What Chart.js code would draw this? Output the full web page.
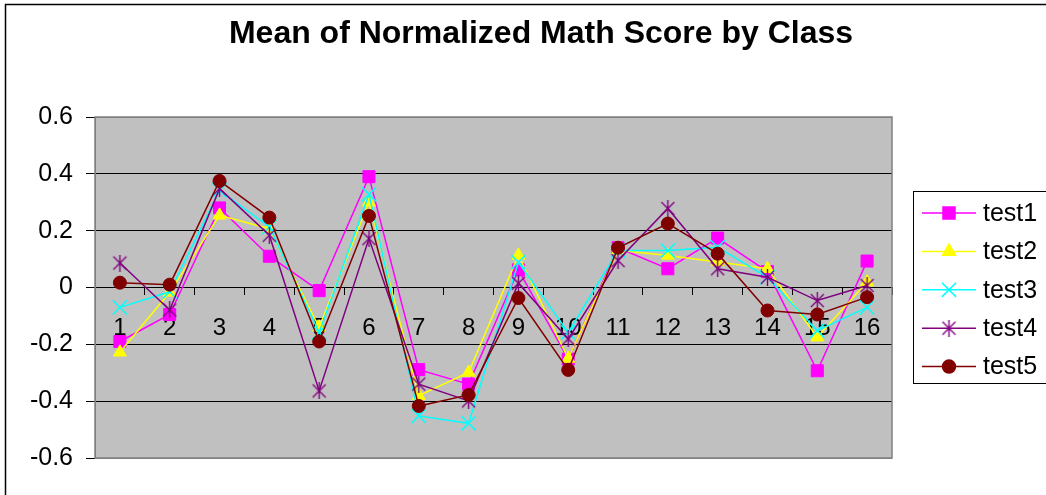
<!DOCTYPE html>
<html>
<head>
<meta charset="utf-8">
<title>Mean of Normalized Math Score by Class</title>
<script src="https://cdn.jsdelivr.net/npm/chart.js@4.4.1/dist/chart.umd.min.js"></script>
<style>
    body { margin: 0; background: #fff; }
    #wrap { width: 1046px; height: 495px; }
</style>
</head>
<body>
<div id="wrap"><canvas id="scoreChart" width="1046" height="495"></canvas></div>
<script>
// Chart data
const classes = ['1', '2', '3', '4', '5', '6', '7', '8', '9', '10', '11', '12', '13', '14', '15', '16'];
const seriesNames = ['test1', 'test2', 'test3', 'test4', 'test5'];
const test1 = [-0.19, -0.095, 0.28, 0.11, -0.011, 0.39, -0.289, -0.34, 0.062, -0.252, 0.14, 0.066, 0.174, 0.056, -0.293, 0.093];
const test2 = [-0.228, -0.017, 0.254, 0.207, -0.14, 0.30, -0.381, -0.299, 0.113, -0.25, 0.131, 0.113, 0.09, 0.066, -0.175, 0.019];
const test3 = [-0.07, -0.015, 0.342, 0.213, -0.158, 0.328, -0.452, -0.478, 0.089, -0.158, 0.13, 0.13, 0.142, 0.036, -0.152, -0.07];
const test4 = [0.086, -0.079, 0.348, 0.184, -0.364, 0.172, -0.34, -0.399, 0.015, -0.181, 0.095, 0.278, 0.066, 0.036, -0.046, 0.007];
const test5 = [0.017, 0.01, 0.375, 0.246, -0.19, 0.252, -0.417, -0.378, -0.037, -0.29, 0.14, 0.225, 0.119, -0.081, -0.095, -0.034];
const yTicks = [-0.6, -0.4, -0.2, 0, 0.2, 0.4, 0.6];

const FONT = '"Liberation Sans", Arial, sans-serif';

// Excel-style asterisk marker (X plus a vertical bar)
function makeStar(color) {
    const c = document.createElement('canvas');
    c.width = 17;
    c.height = 17;
    const g = c.getContext('2d');
    g.strokeStyle = color;
    g.lineWidth = 1.4;
    g.beginPath();
    g.moveTo(2, 2); g.lineTo(15, 15);
    g.moveTo(15, 2); g.lineTo(2, 15);
    g.moveTo(8.5, 0); g.lineTo(8.5, 17);
    g.stroke();
    return c;
}

const styles = [
    { color: '#FF00FF', point: 'rect', radius: 8.5 },
    { color: '#FFFF00', point: 'triangle', radius: 7.5 },
    { color: '#00FFFF', point: 'crossRot', radius: 10 },
    { color: '#800080', point: makeStar('#800080'), radius: 8 },
    { color: '#800000', point: 'circle', radius: 6.5 }
];

const seriesData = [test1, test2, test3, test4, test5];

const datasets = seriesData.map((values, i) => ({
    label: seriesNames[i],
    data: values,
    borderColor: styles[i].color,
    backgroundColor: styles[i].color,
    pointBackgroundColor: styles[i].color,
    pointBorderColor: styles[i].color,
    pointStyle: styles[i].point,
    pointRadius: styles[i].radius,
    pointBorderWidth: i === 2 ? 1.5 : 1,
    borderWidth: 1.5,
    tension: 0,
    order: 5 - i // later series drawn on top, like Excel
}));

// Background, frame, title and legend drawn around the plot
const decorPlugin = {
    id: 'decor',
    beforeDraw(chart) {
        const { ctx, chartArea: a } = chart;
        ctx.save();
        ctx.fillStyle = '#fff';
        ctx.fillRect(0, 0, chart.width, chart.height);
        ctx.fillStyle = '#C0C0C0';
        ctx.fillRect(a.left, a.top, a.right - a.left, a.bottom - a.top);
        // outer border
        ctx.strokeStyle = '#000';
        ctx.lineWidth = 1.5;
        ctx.beginPath();
        ctx.moveTo(5.5, chart.height + 2);
        ctx.lineTo(5.5, 4.5);
        ctx.lineTo(chart.width + 2, 4.5);
        ctx.stroke();
        // title
        ctx.fillStyle = '#000';
        ctx.font = 'bold 32px ' + FONT;
        ctx.textAlign = 'center';
        ctx.textBaseline = 'alphabetic';
        ctx.fillText('Mean of Normalized Math Score by Class', 541, 43);
        ctx.restore();
    },
    beforeDatasetsDraw(chart) {
        const { ctx, chartArea: a } = chart;
        ctx.save();
        ctx.strokeStyle = '#808080';
        ctx.lineWidth = 1.5;
        ctx.strokeRect(a.left, a.top, a.right - a.left, a.bottom - a.top);
        ctx.restore();
    },
    afterDraw(chart) {
        const ctx = chart.ctx;
        ctx.save();
        ctx.strokeStyle = '#000';
        ctx.lineWidth = 1;
        ctx.strokeRect(913.5, 191.5, 140, 192);
        ctx.font = '25px ' + FONT;
        ctx.textAlign = 'left';
        ctx.textBaseline = 'middle';
        seriesNames.forEach((name, i) => {
            const y = 213 + i * 38.4;
            ctx.strokeStyle = styles[i].color;
            ctx.fillStyle = styles[i].color;
            ctx.lineWidth = 1.5;
            ctx.beginPath();
            ctx.moveTo(922, y);
            ctx.lineTo(976, y);
            ctx.stroke();
            Chart.helpers.drawPoint(ctx, {
                pointStyle: styles[i].point,
                radius: styles[i].radius,
                rotation: 0,
                borderWidth: i === 2 ? 1.5 : 1
            }, 949, y);
            ctx.fillStyle = '#000';
            ctx.fillText(name, 983, y + 1);
        });
        ctx.restore();
    }
};

const ctx = document.getElementById('scoreChart').getContext('2d');
const scoreChart = new Chart(ctx, {
    type: 'line',
    data: { labels: classes, datasets: datasets },
    plugins: [decorPlugin],
    options: {
        responsive: false,
        animation: false,
        layout: { padding: { top: 117, right: 154, bottom: 37, left: 0 } },
        plugins: {
            legend: { display: false },
            title: { display: false },
            tooltip: { enabled: false }
        },
        scales: {
            x: {
                type: 'category',
                position: { y: 0 },
                offset: true,
                border: { color: '#000', width: 1 },
                grid: {
                    offset: true,
                    drawOnChartArea: false,
                    tickLength: 7,
                    tickColor: '#000'
                },
                ticks: {
                    color: '#000',
                    font: { family: FONT, size: 24 },
                    padding: 19,
                    maxRotation: 0,
                    autoSkip: false
                }
            },
            y: {
                min: -0.6,
                max: 0.6,
                afterFit: scale => { scale.width = 95; },
                afterBuildTicks: scale => {
                    scale.ticks = yTicks.map(v => ({ value: v }));
                },
                border: { color: '#808080', width: 1 },
                grid: {
                    color: c => (Math.abs(c.tick.value) > 0.55 ? '#808080' : '#000'),
                    tickColor: '#000',
                    tickLength: 9,
                    lineWidth: 1
                },
                ticks: {
                    color: '#000',
                    font: { family: FONT, size: 25 },
                    padding: 13,
                    callback: v => String(Math.round(v * 10) / 10)
                }
            }
        }
    }
});
</script>
</body>
</html>
